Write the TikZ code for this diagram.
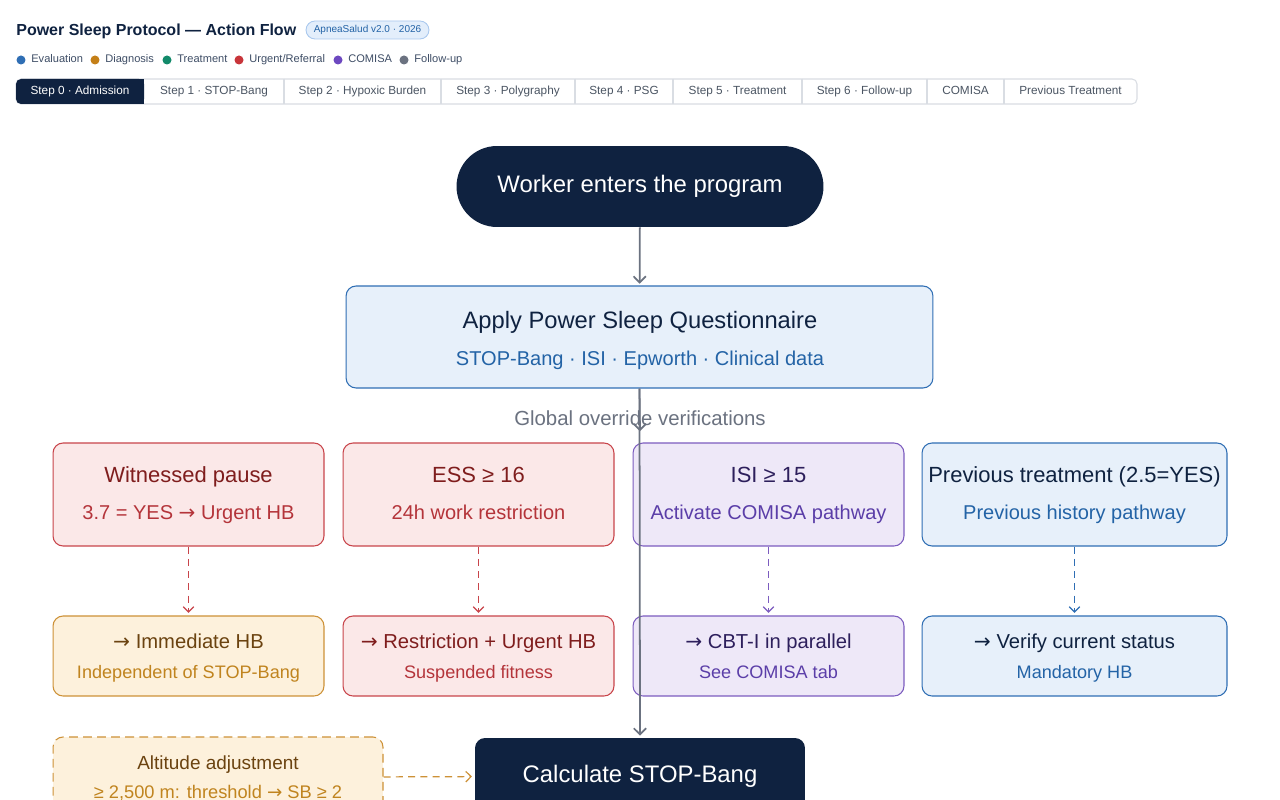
\documentclass[tikz,border=0pt]{standalone}
\usepackage{fontspec}
\setmainfont{Liberation Sans}
\newfontfamily\symfont{DejaVu Sans}
\newcommand\rarr{{\symfont →}}
\usetikzlibrary{arrows.meta}
\definecolor{navy}{RGB}{15,34,64}
\definecolor{flowgray}{RGB}{107,114,128}
\definecolor{evalblue}{RGB}{47,110,180}
\definecolor{evalfill}{RGB}{231,240,250}
\definecolor{evaltext}{RGB}{35,99,166}
\definecolor{diagorange}{RGB}{205,145,55}
\definecolor{diagdot}{RGB}{196,127,23}
\definecolor{diagfill}{RGB}{253,241,220}
\definecolor{diagdark}{RGB}{107,67,16}
\definecolor{diagtext}{RGB}{192,132,31}
\definecolor{treatgreen}{RGB}{18,138,106}
\definecolor{urgred}{RGB}{200,68,74}
\definecolor{urgdot}{RGB}{200,53,58}
\definecolor{urgfill}{RGB}{251,232,232}
\definecolor{urgdark}{RGB}{127,29,29}
\definecolor{urgtext}{RGB}{180,52,58}
\definecolor{comisa}{RGB}{124,92,191}
\definecolor{comisadot}{RGB}{109,72,192}
\definecolor{comisafill}{RGB}{238,232,248}
\definecolor{comisadark}{RGB}{45,31,92}
\definecolor{comisatext}{RGB}{91,62,168}
\definecolor{tabline}{RGB}{217,221,227}
\definecolor{tabtext}{RGB}{75,85,99}
\definecolor{badgefill}{RGB}{227,238,251}
\definecolor{badgeline}{RGB}{169,200,238}
\tikzset{
  pill/.style={fill=navy,text=white,rounded corners=0.81cm,
               minimum width=7.34cm,minimum height=1.62cm,inner sep=0pt,
               font=\fontsize{13.6}{16}\selectfont},
  card/.style={rounded corners=0.2cm,line width=0.6pt,inner sep=0pt},
  rowone/.style={card,minimum width=5.42cm,minimum height=2.06cm},
  rowtwo/.style={card,minimum width=5.42cm,minimum height=1.6cm},
  redcard/.style={draw=urgred,fill=urgfill},
  orcard/.style={draw=diagorange,fill=diagfill},
  pucard/.style={draw=comisa,fill=comisafill},
  blcard/.style={draw=evalblue,fill=evalfill},
  ttl/.style={anchor=base,font=\fontsize{12.5}{15}\selectfont},
  sub/.style={anchor=base,font=\fontsize{11.4}{14}\selectfont},
  ttltwo/.style={anchor=base,font=\fontsize{11.5}{14}\selectfont},
  subtwo/.style={anchor=base,font=\fontsize{10.3}{12}\selectfont},
  tabtxt/.style={anchor=base,font=\fontsize{6.7}{8}\selectfont,text=tabtext},
  legtxt/.style={anchor=base west,inner sep=0pt,font=\fontsize{6.3}{8}\selectfont,text=navy!80},
  legdot/.style={circle,inner sep=0pt,minimum size=0.18cm},
  flow/.style={-{Straight Barb[length=3.5pt,width=7pt]},line width=1pt,flowgray,
               shorten >=1pt},
  dflow/.style={-{Straight Barb[length=3pt,width=6pt]},line width=0.7pt,
                dash pattern=on 4pt off 3pt,shorten >=1.5pt},
}

\begin{document}
\begin{tikzpicture}[x=0.02cm,y=-0.02cm]
  \useasboundingbox (0,0) rectangle (1280,800);
  \clip (0,0) rectangle (1280,800);
  \fill[white] (0,0) rectangle (1280,800);

  % header
  \node[anchor=base west,inner sep=0pt,font=\fontsize{9.1}{11}\selectfont\bfseries,text=navy]
    (title) at (16,35.8) {Power Sleep Protocol — Action Flow};
  \node[draw=badgeline,fill=badgefill,rounded corners=0.18cm,line width=0.5pt,
        minimum width=2.46cm,minimum height=0.36cm,inner sep=0pt,
        font=\fontsize{5.7}{7}\selectfont,text=evaltext]
    (badge) at (367.5,30) {ApneaSalud v2.0 · 2026};

  % legend
  \node[legdot,fill=evalblue] (dot-eval) at (21,60) {};
  \node[legtxt] (leg-eval) at (31,63) {Evaluation};
  \node[legdot,fill=diagdot] (dot-diag) at (95,60) {};
  \node[legtxt] (leg-diag) at (105,63) {Diagnosis};
  \node[legdot,fill=treatgreen] (dot-treat) at (167,60) {};
  \node[legtxt] (leg-treat) at (177,63) {Treatment};
  \node[legdot,fill=urgdot] (dot-urg) at (239,60) {};
  \node[legtxt] (leg-urg) at (249,63) {Urgent/Referral};
  \node[legdot,fill=comisadot] (dot-comisa) at (338,60) {};
  \node[legtxt] (leg-comisa) at (348,63) {COMISA};
  \node[legdot,fill=flowgray] (dot-follow) at (404,60) {};
  \node[legtxt] (leg-follow) at (414,63) {Follow-up};

  % tabs
  \draw[tabline,line width=0.6pt,rounded corners=0.1cm] (16,79) rectangle (1137,104);
  \fill[navy,rounded corners=0.1cm] (16,79) rectangle (144,104);
  \fill[navy] (130,79) rectangle (144,104);
  \foreach \sx in {284,441,575,673,802,927,1004}
    \draw[tabline,line width=0.6pt] (\sx,79) -- (\sx,104);
  \node[tabtxt,text=white] (tab0) at (80,95) {Step 0 · Admission};
  \node[tabtxt] (tab1) at (214,95) {Step 1 · STOP-Bang};
  \node[tabtxt] (tab2) at (362.5,95) {Step 2 · Hypoxic Burden};
  \node[tabtxt] (tab3) at (508,95) {Step 3 · Polygraphy};
  \node[tabtxt] (tab4) at (624,95) {Step 4 · PSG};
  \node[tabtxt] (tab5) at (737.5,95) {Step 5 · Treatment};
  \node[tabtxt] (tab6) at (864.5,95) {Step 6 · Follow-up};
  \node[tabtxt] (tab7) at (965.5,95) {COMISA};
  \node[tabtxt] (tab8) at (1070.5,95) {Previous Treatment};

  % entry and questionnaire
  \node[pill] (start) at (640,186.5) {Worker enters the program};
  \node[card,blcard,minimum width=11.74cm,minimum height=2.04cm] (quest) at (639.5,337) {};
  \node[ttl,text=navy,font=\fontsize{13.5}{16}\selectfont] (quest-t) at (640,328) {Apply Power Sleep Questionnaire};
  \node[sub,text=evaltext] (quest-s) at (640,365) {STOP-Bang · ISI · Epworth · Clinical data};
  \node[anchor=base,font=\fontsize{11.6}{14}\selectfont,text=flowgray]
    (global) at (640,425) {Global override verifications};

  % override checks
  \node[rowone,redcard] (pause) at (188.5,494.5) {};
  \node[ttl,text=urgdark] at (188.5,482) {Witnessed pause};
  \node[sub,text=urgtext] at (188.5,519) {3.7 = YES \rarr{} Urgent HB};
  \node[rowone,redcard] (ess) at (478.5,494.5) {};
  \node[ttl,text=urgdark] at (478.5,482) {ESS ≥ 16};
  \node[sub,text=urgtext] at (478.5,519) {24h work restriction};
  \node[rowone,pucard] (isi) at (768.5,494.5) {};
  \node[ttl,text=comisadark] at (768.5,482) {ISI ≥ 15};
  \node[sub,text=comisatext] at (768.5,519) {Activate COMISA pathway};
  \node[rowone,blcard,minimum width=6.1cm] (prevtx) at (1074.5,494.5) {};
  \node[ttl,text=navy] at (1074.5,482) {Previous treatment (2.5=YES)};
  \node[sub,text=evaltext] at (1074.5,519) {Previous history pathway};

  % consequences
  \node[rowtwo,orcard] (immhb) at (188.5,656) {};
  \node[ttltwo,text=diagdark] at (188.5,648) {\rarr{} Immediate HB};
  \node[subtwo,text=diagtext] at (188.5,678.5) {Independent of STOP-Bang};
  \node[rowtwo,redcard] (restr) at (478.5,656) {};
  \node[ttltwo,text=urgdark] at (478.5,648) {\rarr{} Restriction + Urgent HB};
  \node[subtwo,text=urgtext] at (478.5,678.5) {Suspended fitness};
  \node[rowtwo,pucard] (cbti) at (768.5,656) {};
  \node[ttltwo,text=comisadark] at (768.5,648) {\rarr{} CBT-I in parallel};
  \node[subtwo,text=comisatext] at (768.5,678.5) {See COMISA tab};
  \node[rowtwo,blcard,minimum width=6.1cm] (verify) at (1074.5,656) {};
  \node[ttltwo,text=navy] at (1074.5,648) {\rarr{} Verify current status};
  \node[subtwo,text=evaltext] at (1074.5,678.5) {Mandatory HB};

  % altitude and STOP-Bang
  \node[card,draw=diagorange,fill=diagfill,dash pattern=on 5pt off 3pt,
        minimum width=6.6cm,minimum height=1.62cm] (alt) at (218,777.5) {};
  \node[anchor=base,font=\fontsize{10.8}{13}\selectfont,text=diagdark] at (218,769) {Altitude adjustment};
  \node[anchor=base,font=\fontsize{10.4}{13}\selectfont,text=diagtext] at (218,798) {≥ 2,500 m: threshold \rarr{} SB ≥ 2};
  \node[card,fill=navy,text=white,minimum width=6.6cm,minimum height=1.52cm,
        font=\fontsize{13.6}{16}\selectfont] (calc) at (640,776) {Calculate STOP-Bang};

  % connectors
  \coordinate (ovr) at (640,433);
  \draw[flow] (start) -- (quest);
  \draw[flow] (quest.south) -- (ovr);
  \draw[flow] (quest.south) -- (calc.north);
  \draw[dflow,urgred] (pause) -- (immhb);
  \draw[dflow,urgred] (ess) -- (restr);
  \draw[dflow,comisa] (isi) -- (cbti);
  \draw[dflow,evalblue] (prevtx) -- (verify);
  \draw[dflow,diagorange] (alt) -- (calc);
\end{tikzpicture}
\end{document}
